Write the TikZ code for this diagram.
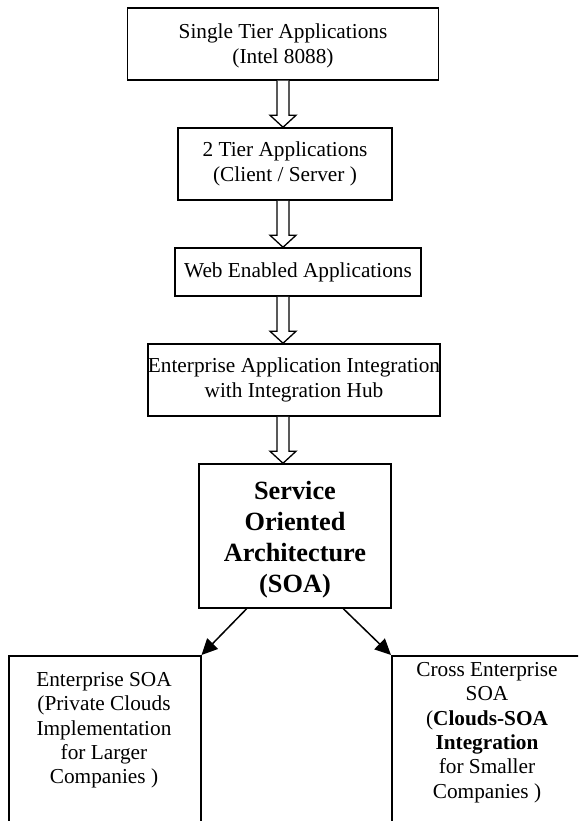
\documentclass[tikz,border=0pt]{standalone}
\usepackage{fontspec}
\setmainfont{Liberation Serif}
\usetikzlibrary{arrows.meta,calc}
\newcommand\normsz{\fontsize{21.3}{24.4}\selectfont}
\newcommand\bigsz{\fontsize{26.3}{31}\selectfont\bfseries}
\newcommand\blkarrow[2]{%
  \path[blkarr] let \p1=(#1.south -| ax), \p2=(#2.north -| ax) in
    ({\x1-6pt},\y1) -- ({\x1-6pt},{\y2+12pt}) -- ({\x1-13pt},{\y2+12pt})
    -- (\x1,\y2) -- ({\x1+13pt},{\y2+12pt}) -- ({\x1+6pt},{\y2+12pt})
    -- ({\x1+6pt},\y1);}
\begin{document}
\begin{tikzpicture}[x=1pt,y=-1pt,
  box/.style={draw, line width=1.5pt, align=center, inner sep=0pt, font=\normsz},
  txt/.style={align=center, inner sep=0pt, font=\normsz},
  blkarr/.style={draw, fill=white, line width=1.3pt, line join=miter},
  tri/.style={line width=1.5pt, -{Triangle[length=16pt,width=15pt]}}]
\clip (0,0) rectangle (578,821);
\fill[white] (0,0) rectangle (578,821);
\coordinate (ax) at (283,0);
\node[box, minimum width=311pt, minimum height=72pt] (b1) at (283,44) {};
\node[txt] (b1t) at (283,46) {Single Tier Applications\\(Intel 8088)};
\node[box, minimum width=214pt, minimum height=72pt] (b2) at (285,164)
  {2 Tier Applications\\(Client / Server )};
\node[box, minimum width=246pt, minimum height=48pt] (b3) at (298,272)
  {Web Enabled Applications};
\node[box, minimum width=292pt, minimum height=72pt] (b4) at (294,380)
  {Enterprise Application Integration\\with Integration Hub};
\node[box, minimum width=192pt, minimum height=144pt] (b5) at (295,536) {};
\node[txt, font=\bigsz] (b5t) at (295,540)
  {Service\\Oriented\\Architecture\\(SOA)};
\node[box, minimum width=192pt, minimum height=220pt, anchor=north west] (esoa) at (8,655) {};
\node[txt, anchor=north] (esoat) at (104,672)
  {Enterprise SOA\\(Private Clouds\\Implementation\\for Larger\\Companies )};
\node[box, minimum width=220pt, minimum height=220pt, anchor=north west] (csoa) at (391,655) {};
\node[txt, anchor=north] (csoat) at (487,662)
  {Cross Enterprise\\SOA\\(\textbf{Clouds-SOA}\\\textbf{Integration}\\for Smaller\\Companies )};
\blkarrow{b1}{b2}
\blkarrow{b2}{b3}
\blkarrow{b3}{b4}
\blkarrow{b4}{b5}
\draw[tri] ($(b5.south west)!0.25!(b5.south east)$) -- (esoa.north east);
\draw[tri] ($(b5.south west)!0.75!(b5.south east)$) -- (csoa.north west);
\end{tikzpicture}
\end{document}
